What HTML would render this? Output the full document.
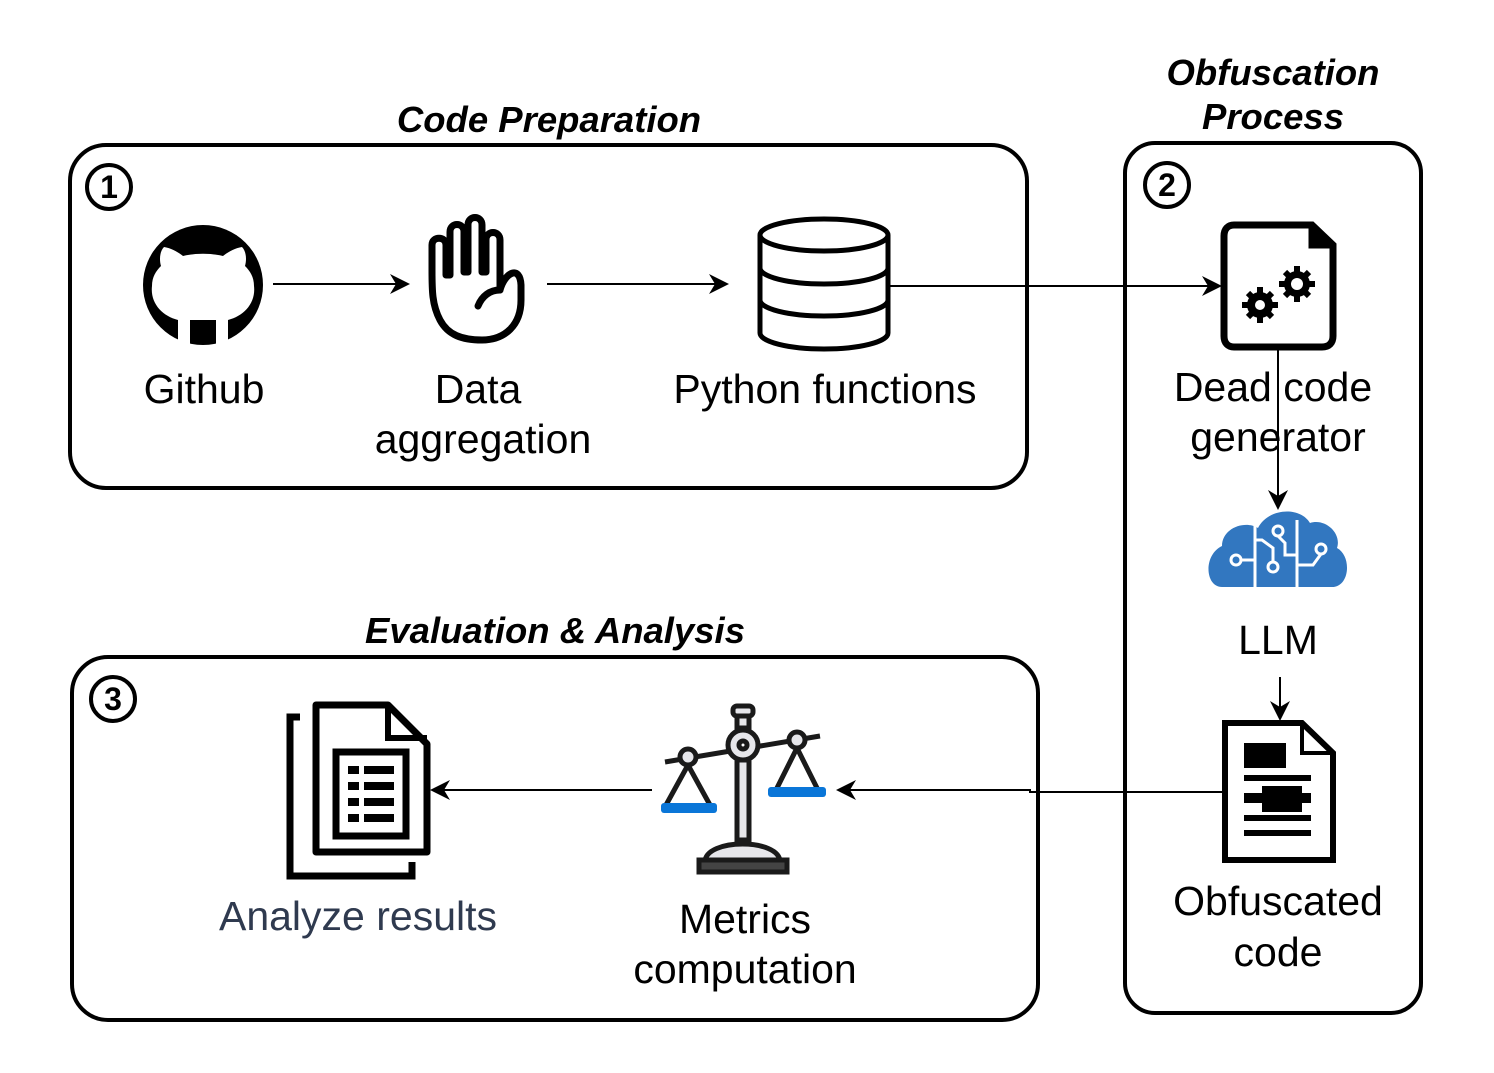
<!DOCTYPE html>
<html><head><meta charset="utf-8"><style>
html,body{margin:0;padding:0;background:#fff}
svg{display:block}
text{font-family:"Liberation Sans",Arial,sans-serif}
.t{font-size:41px;fill:#000;text-anchor:middle}
.h{font-size:36.5px;font-weight:bold;font-style:italic;text-anchor:middle}
.n{font-size:32px;font-weight:bold;text-anchor:middle}
</style></head><body>
<svg width="1494" height="1073" viewBox="0 0 1494 1073" xmlns="http://www.w3.org/2000/svg">
<defs>
<marker id="ah" viewBox="0 0 10 10" refX="9" refY="5" markerWidth="10" markerHeight="10" orient="auto"><path d="M0,0 L10,5 L0,10 L3,5 z" fill="#000"/></marker>
</defs>
<rect x="70" y="145" width="957" height="343" rx="36" fill="none" stroke="#000" stroke-width="4"/>
<rect x="1125" y="143" width="296" height="870" rx="30" fill="none" stroke="#000" stroke-width="4"/>
<rect x="72" y="657" width="966" height="363" rx="36" fill="none" stroke="#000" stroke-width="4"/>
<text class="h" x="549" y="132">Code Preparation</text>
<text class="h" x="1273" y="85">Obfuscation</text>
<text class="h" x="1273" y="129">Process</text>
<text class="h" x="555" y="643">Evaluation &amp; Analysis</text>
<circle cx="109" cy="187" r="22" fill="none" stroke="#000" stroke-width="4"/><text class="n" x="109" y="198">1</text>
<circle cx="1167" cy="185" r="22" fill="none" stroke="#000" stroke-width="4"/><text class="n" x="1167" y="196">2</text>
<circle cx="113" cy="699" r="22" fill="none" stroke="#000" stroke-width="4"/><text class="n" x="113" y="710">3</text>
<g stroke="#000" stroke-width="2" fill="none">
<line x1="273" y1="284" x2="408" y2="284" marker-end="url(#ah)"/>
<line x1="547" y1="284" x2="727" y2="284" marker-end="url(#ah)"/>
<line x1="888" y1="286" x2="1220" y2="286" marker-end="url(#ah)"/>
<line x1="1278" y1="348" x2="1278" y2="508" marker-end="url(#ah)"/>
<line x1="1280" y1="677" x2="1280" y2="719" marker-end="url(#ah)"/>
<polyline points="1222,792 1030,792 1030,790 838,790" marker-end="url(#ah)"/>
<line x1="652" y1="790" x2="432" y2="790" marker-end="url(#ah)"/>
</g>
<circle cx="203" cy="285" r="60" fill="#000"/>
<path d="M178,342 L178,320 C162,316 150,303 152,286 C152,277 156,271 161,266 C159,259 160,251 164,247 C171,248 178,252 183,256 C196,253 210,253 223,256 C228,252 235,248 242,247 C246,251 247,259 245,266 C250,271 254,277 254,286 C256,303 244,316 228,320 L228,342 L216,344 L216,320 L190,320 L190,344 Z" fill="#fff"/>
<path d="M158,316 C166,316 170,328 178,328" stroke="#000" stroke-width="4" fill="none"/>
<path d="M440,320 C432,305 432,290 432,270 L432,245 C432,236 446,236 446,245 L446,275 L450,275 L450,232 C450,222 464,222 464,232 L464,272 L468,272 L468,225 C468,215 482,215 482,225 L482,272 L486,272 L486,240 C486,230 500,230 500,240 L500,290 C505,272 520,265 521,285 L521,300 C521,325 505,340 482,340 C462,340 448,335 440,320 Z" fill="none" stroke="#000" stroke-width="7" stroke-linejoin="round"/>
<path d="M478,306 C482,296 490,290 500,290" fill="none" stroke="#000" stroke-width="7" stroke-linecap="round"/>
<g fill="#fff" stroke="#000" stroke-width="5">
<path d="M760,235 L760,333 A64,16 0 0 0 888,333 L888,235"/>
<ellipse cx="824" cy="235" rx="64" ry="16"/>
<path d="M760,268 A64,16 0 0 0 888,268" fill="none"/>
<path d="M760,300 A64,16 0 0 0 888,300" fill="none"/>
</g>
<text class="t" x="204" y="403">Github</text>
<text class="t" x="478" y="403">Data</text>
<text class="t" x="483" y="453">aggregation</text>
<text class="t" x="825" y="403">Python functions</text>
<path d="M1234,225 L1312,225 L1333,245 L1333,336 C1333,343 1329,347 1322,347 L1234,347 C1228,347 1224,343 1224,336 L1224,236 C1224,229 1228,225 1234,225 Z" fill="#fff" stroke="#000" stroke-width="7"/>
<path d="M1310,225 L1310,247 L1333,247" fill="#000" stroke="#000" stroke-width="3"/>
<g fill="#000">
<circle cx="1260" cy="305" r="13"/>
<g stroke="#000" stroke-width="6"><line x1="1260" y1="287" x2="1260" y2="323"/><line x1="1242" y1="305" x2="1278" y2="305"/><line x1="1248" y1="293" x2="1272" y2="317"/><line x1="1248" y1="317" x2="1272" y2="293"/></g>
<circle cx="1260" cy="305" r="5" fill="#fff"/>
<circle cx="1297" cy="284" r="13"/>
<g stroke="#000" stroke-width="6"><line x1="1297" y1="266" x2="1297" y2="302"/><line x1="1279" y1="284" x2="1315" y2="284"/><line x1="1285" y1="272" x2="1309" y2="296"/><line x1="1285" y1="296" x2="1309" y2="272"/></g>
<circle cx="1297" cy="284" r="6" fill="#fff"/>
</g>
<text class="t" x="1273" y="401">Dead code</text>
<text class="t" x="1278" y="451">generator</text>
<line x1="1278" y1="348" x2="1278" y2="500" stroke="#000" stroke-width="2"/>
<path d="M1222,587 C1205,587 1203,555 1222,546 C1222,528 1245,520 1258,528 C1268,508 1300,506 1310,523 C1325,518 1342,533 1337,548 C1352,556 1350,587 1332,587 Z" fill="#3277c0"/>
<g stroke="#fff" stroke-width="3" fill="none">
<line x1="1255" y1="520" x2="1255" y2="590"/><line x1="1297" y1="520" x2="1297" y2="590"/>
<circle cx="1236" cy="560" r="5"/><path d="M1241,560 L1255,560"/>
<circle cx="1278" cy="531" r="5"/><path d="M1278,536 L1285,543 L1285,555 L1297,555"/>
<circle cx="1273" cy="567" r="5"/><path d="M1273,562 L1273,548 L1262,540 L1255,540"/>
<circle cx="1321" cy="549" r="5"/><path d="M1321,554 L1313,565 L1297,565"/>
</g>
<text class="t" x="1278" y="654">LLM</text>
<path d="M1225,723 L1302,723 L1333,753 L1333,860 L1225,860 Z" fill="#fff" stroke="#000" stroke-width="6"/>
<path d="M1302,723 L1302,753 L1333,753" fill="none" stroke="#000" stroke-width="4"/>
<g fill="#000">
<rect x="1244" y="743" width="42" height="25"/>
<rect x="1244" y="775" width="67" height="6"/>
<rect x="1262" y="786" width="40" height="26"/>
<rect x="1244" y="793" width="67" height="10"/>
<rect x="1244" y="815" width="67" height="6"/>
<rect x="1244" y="830" width="67" height="6"/>
</g>
<text class="t" x="1278" y="915">Obfuscated</text>
<text class="t" x="1278" y="966">code</text>
<path d="M300,717 L290,717 L290,876 L412,876 L412,862" fill="none" stroke="#000" stroke-width="7"/>
<path d="M316,705 L388,705 L427,744 L427,852 L316,852 Z" fill="#fff" stroke="#000" stroke-width="7" stroke-linejoin="round"/>
<path d="M388,705 L388,738 L427,738" fill="none" stroke="#000" stroke-width="6"/>
<rect x="336" y="752" width="70" height="84" fill="#fff" stroke="#000" stroke-width="7"/>
<g fill="#000">
<rect x="348" y="766" width="11" height="8"/><rect x="364" y="766" width="30" height="8"/>
<rect x="348" y="782" width="11" height="8"/><rect x="364" y="782" width="30" height="8"/>
<rect x="348" y="798" width="11" height="8"/><rect x="364" y="798" width="30" height="8"/>
<rect x="348" y="814" width="11" height="8"/><rect x="364" y="814" width="30" height="8"/>
</g>
<text x="358" y="930" style="font-size:41px;fill:#2f3a4f;text-anchor:middle">Analyze results</text>
<g stroke="#1a1a1a" stroke-width="5" fill="#e6e6ea">
<line x1="665" y1="762" x2="820" y2="736" fill="none"/>
<rect x="733" y="706" width="20" height="10" rx="4"/>
<rect x="737" y="716" width="12" height="12"/>
<rect x="737" y="760" width="12" height="80"/>
<path d="M705,862 C705,838 780,838 780,862 Z"/>
<rect x="699" y="860" width="88" height="12" fill="#444"/>
<circle cx="743" cy="745" r="15"/><circle cx="743" cy="745" r="4" fill="#fff"/>
<circle cx="688" cy="757" r="8"/><circle cx="797" cy="740" r="8"/>
<path d="M688,765 L666,805 M688,765 L710,805 M797,748 L776,790 M797,748 L818,790" fill="none"/>
</g>
<rect x="661" y="803" width="56" height="10" rx="3" fill="#0a76d8"/>
<rect x="768" y="787" width="58" height="10" rx="3" fill="#0a76d8"/>
<text class="t" x="745" y="933">Metrics</text>
<text class="t" x="745" y="983">computation</text>
</svg>
</body></html>
